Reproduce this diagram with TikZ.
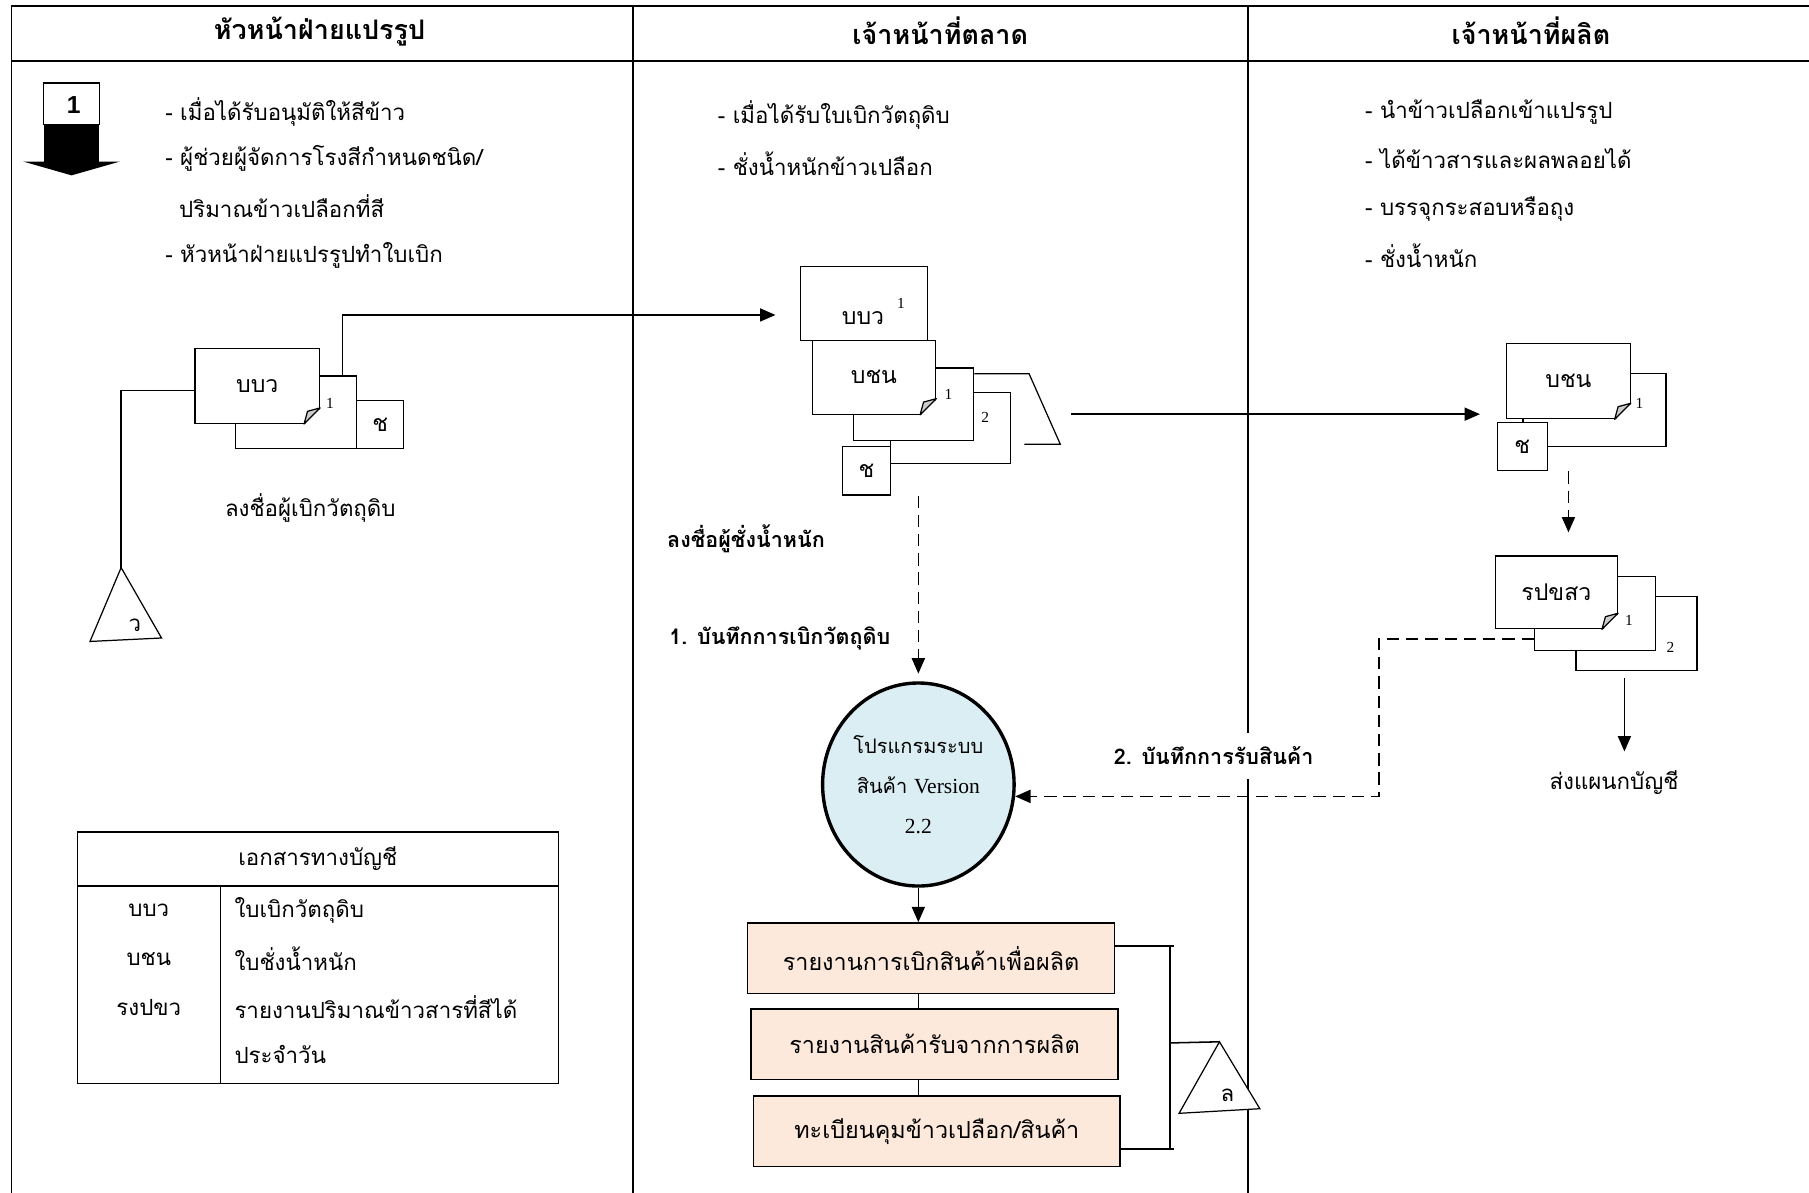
\documentclass[tikz,border=0pt]{standalone}
\usepackage{fontspec}
\newfontfamily\thaifont[Script=Thai]{Loma}
\newfontfamily\latinserif{Liberation Serif}
\newfontfamily\latinsans{Liberation Sans}
\usetikzlibrary{arrows.meta,calc,shapes.geometric}

\definecolor{progblue}{RGB}{218,238,243}
\definecolor{peach}{RGB}{252,233,219}

\tikzset{
  lane/.style={line width=1.2pt},
  sheet/.style 2 args={draw, fill=white, line width=0.8pt, inner sep=0pt,
    minimum width=#1*0.75pt, minimum height=#2*0.75pt,
    font=\thaifont\fontsize{15}{18}\selectfont},
  copyno/.style={inner sep=0pt, font=\latinserif\fontsize{10}{12}\selectfont},
  txt/.style={anchor=west, inner sep=0pt, font=\thaifont\fontsize{14.5}{17}\selectfont},
  ctxt/.style={inner sep=0pt, font=\thaifont\fontsize{14.5}{17}\selectfont},
  boldtxt/.style={anchor=west, inner sep=0pt, font=\thaifont\bfseries\fontsize{14}{17}\selectfont},
  headtxt/.style={inner sep=0pt, font=\thaifont\bfseries\fontsize{17.5}{20}\selectfont},
  flow/.style={line width=1pt, -{Triangle[length=10pt,width=8.5pt]}},
  dflow/.style={flow, line width=1.1pt, dash pattern=on 8pt off 4.5pt},
  report/.style={draw, fill=peach, line width=1pt, minimum width=318*0.75pt,
    minimum height=61*0.75pt, font=\thaifont\fontsize{15.2}{18}\selectfont},
  prog/.style={ellipse, draw, fill=progblue, line width=2.2pt, inner sep=0pt,
    minimum width=166*0.75pt, minimum height=176*0.75pt, align=center,
    font=\thaifont\fontsize{13}{26}\selectfont},
}

% folded corner at the lower right of a page
\newcommand{\pagefold}[1]{%
  \fill[white] ($(#1.south east)+(-14,1)$) -- ($(#1.south east)+(1,1)$) -- ($(#1.south east)+(1,-14)$) -- cycle;
  \draw[line width=0.8pt, fill=gray!40, line join=round] ($(#1.south east)+(-14,0)$) -- ($(#1.south east)+(0,-14)$) -- ($(#1.south east)+(-11,-11)$) -- cycle;
}

\begin{document}
\begin{tikzpicture}[x=0.75pt,y=0.75pt,yscale=-1,xscale=1]
\useasboundingbox (0,0) rectangle (1568,1034);

% Lanes
\draw[lane] (10,1034) -- (10,5) -- (1568,5);
\draw[lane] (10,53) -- (1568,53);
\draw[lane] (549,5) -- (549,1034);
\draw[lane] (1082,5) -- (1082,1034);

% Text Node
\node[headtxt] (head1) at (277,27) {หัวหน้าฝ่ายแปรรูป};
\node[headtxt] (head2) at (815,27) {เจ้าหน้าที่ตลาด};
\node[headtxt] (head3) at (1327,27) {เจ้าหน้าที่ผลิต};

%% first lane
% Start symbol
\draw[line width=0.8pt, fill=white] (38,72) rectangle (86,108);
\fill (38,108) rectangle (86,140);
\fill (20,140) -- (104,140) -- (62,152) -- cycle;
\node[inner sep=0pt, font=\latinsans\bfseries\fontsize{16}{18}\selectfont] (start) at (64,91) {1};

\node[txt] (lt1) at (143,97) {- เมื่อได้รับอนุมัติให้สีข้าว};
\node[txt] (lt2) at (143,137) {- ผู้ช่วยผู้จัดการโรงสีกำหนดชนิด/};
\node[txt] (lt3) at (155,179) {ปริมาณข้าวเปลือกที่สี};
\node[txt] (lt4) at (143,221) {- หัวหน้าฝ่ายแปรรูปทำใบเบิก};

% Pages
\node[sheet={105}{63}] (lcpy) at (256.5,357.5) {};
\node[copyno] (lcpyno) at (286,350) {1};
\node[sheet={41}{42}] (lch) at (329.5,368) {\raisebox{-3pt}{ช}};
\node[sheet={108}{65}] (lbbv) at (223,334.5) {บบว};
\pagefold{lbbv}
\node[ctxt] (lsign) at (269,440) {ลงชื่อผู้เบิกวัตถุดิบ};

% File
\draw[line width=0.8pt, fill=white] (105,492) -- (140,553) -- (78,556) -- cycle;
\coordinate (ltri) at (105,492);
\node[ctxt] (ltrilbl) at (117,542) {ว};
\draw[line width=1pt] ($(lbbv.west)+(0,4)$) -| (ltri);

% Accounting documents
\draw[line width=1pt] (67,721) rectangle (484,939);
\draw[line width=1pt] (67,768) -- (484,768);
\draw[line width=1pt] (191,768) -- (191,939);
\node[ctxt] (acchead) at (275.5,744) {เอกสารทางบัญชี};
\node[ctxt] (acc1) at (129,789) {บบว};
\node[ctxt] (acc2) at (129,831) {บชน};
\node[ctxt] (acc3) at (129,873) {รงปขว};
\node[txt] (accd1) at (203,789) {ใบเบิกวัตถุดิบ};
\node[txt] (accd2) at (203,831) {ใบชั่งน้ำหนัก};
\node[txt] (accd3) at (203,873) {รายงานปริมาณข้าวสารที่สีได้};
\node[txt] (accd4) at (203,914) {ประจำวัน};

%% second lane
\node[txt] (mt1) at (622,100) {- เมื่อได้รับใบเบิกวัตถุดิบ};
\node[txt] (mt2) at (622,142) {- ชั่งน้ำหนักข้าวเปลือก};

\node[sheet={104}{62}] (mcp2) at (824,371) {};
\node[copyno] (mcp2no) at (854,362) {2};
\node[sheet={104}{63}] (mcp1) at (792,350.5) {};
\node[copyno] (mcp1no) at (822,342) {1};
\node[sheet={42}{42}] (mch) at (751,408) {\raisebox{-3pt}{ช}};
\node[sheet={107}{64}] (mbcn) at (757.5,327) {บชน};
\pagefold{mbcn}
\node[sheet={110}{64}] (mbbv) at (749,263) {};
\node[ctxt, font=\thaifont\fontsize{15}{18}\selectfont] (mbbvlbl) at (748,276) {บบว};
\node[copyno] (mbbvno) at (781,263) {1};

% File of copies
\coordinate (mfa) at (892,324);
\coordinate (mfb) at (919,385);
\draw[line width=0.8pt] (mfa -| mcp1.east) -- (mfa) -- (mfb) -- (888,385);

% flows
\coordinate (lup) at (297,273);
\draw[flow, shorten >=16pt] (lup |- lcpy.north) -- (lup) -- (lup -| mbbv.west);

\node[boldtxt] (wsign) at (578,467) {ลงชื่อผู้ชั่งน้ำหนัก};
\node[boldtxt] (rec1) at (580,553) {1. บันทึกการเบิกวัตถุดิบ};

\node[prog] (prog) at (796,680) {โปรแกรมระบบ\\สินค้า {\latinserif\fontsize{14}{26}\selectfont Version}\\{\latinserif\fontsize{14}{26}\selectfont 2.2}};
\draw[dflow, shorten >=5pt] (prog.north |- mch.south) -- (prog.north);

% Reports
\node[report] (rep1) at (807,830.5) {รายงานการเบิกสินค้าเพื่อผลิต};
\node[report] (rep2) at (810,905) {รายงานสินค้ารับจากการผลิต};
\node[report] (rep3) at (812,980.5) {ทะเบียนคุมข้าวเปลือก/สินค้า};
\draw[flow] (prog.south) -- (prog.south |- rep1.north);
\draw[line width=1pt] (prog.south |- rep1.south) -- (prog.south |- rep2.north);
\draw[line width=1pt] (prog.south |- rep2.south) -- (prog.south |- rep3.north);

\coordinate (brt) at (1018,820);
\coordinate (brb) at (1018,996);
\coordinate (rtri) at (1057,903);
\draw[line width=1pt] (rep1.east |- brt) -- (brt);
\draw[line width=1pt] (rep3.east |- brb) -- (brb);
\draw[line width=1pt] (1014,820) -- (1014,996);
\draw[line width=1pt] (1014,904) -- (rtri);
\draw[line width=0.8pt, fill=white] (rtri) -- (1092,961) -- (1022,965) -- cycle;
\node[ctxt] (rtrilbl) at (1064,949) {ล};

%% third lane
\node[txt] (rt1) at (1183,97) {- นำข้าวเปลือกเข้าแปรรูป};
\node[txt] (rt2) at (1183,137) {- ได้ข้าวสารและผลพลอยได้};
\node[txt] (rt3) at (1183,181) {- บรรจุกระสอบหรือถุง};
\node[txt] (rt4) at (1183,222) {- ชั่งน้ำหนัก};

\node[sheet={124}{63}] (rcp) at (1382,355.5) {};
\node[copyno] (rcpno) at (1421,350) {1};
\node[sheet={107}{65}] (rbcn) at (1359.5,330.5) {บชน};
\pagefold{rbcn}
\node[sheet={43}{42}] (rch) at (1319.5,387) {\raisebox{-3pt}{ช}};

\coordinate (mout) at (928,359);
\draw[flow, shorten >=11pt] (mout) -- (mout -| rch.west);

\node[sheet={105}{64}] (rpc2) at (1418.5,549) {};
\node[copyno] (rpc2no) at (1448,561) {2};
\node[sheet={105}{64}] (rpc1) at (1382.5,532) {};
\node[copyno] (rpc1no) at (1412,538) {1};
\node[sheet={106}{63}] (rpx) at (1349,513.5) {รปขสว};
\pagefold{rpx}

\draw[dflow, shorten >=15pt] (rch.south -| rbcn.south) -- (rbcn.south |- rpx.north);

\node[ctxt] (acct) at (1399,678) {ส่งแผนกบัญชี};
\coordinate (racc) at (1408,588);
\draw[flow, shorten >=12pt] (racc) -- (racc |- acct.north);

% record receipt
\coordinate (dk) at (1195,554);
\draw[dflow] (rpc1.west |- dk) -- (dk) |- (prog.-7);
\node[boldtxt, anchor=center, fill=white, inner xsep=2pt, inner ysep=9pt] (rec2) at (1052,655) {2. บันทึกการรับสินค้า};

\end{tikzpicture}
\end{document}
